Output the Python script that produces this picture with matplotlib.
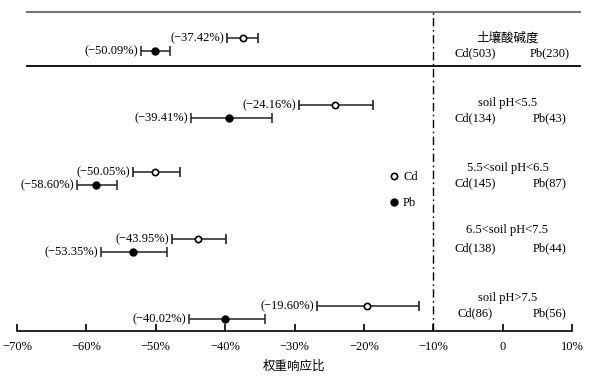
import matplotlib
matplotlib.use("Agg")
import matplotlib.pyplot as plt
from matplotlib.lines import Line2D
import numpy as np

# ---- data ----
groups = ["土壤酸碱度", "soil pH<5.5", "5.5<soil pH<6.5", "6.5<soil pH<7.5", "soil pH>7.5"]
cd_n = [503, 134, 145, 138, 86]
pb_n = [230, 43, 87, 44, 56]
cd_mean = [-37.42, -24.16, -50.05, -43.95, -19.60]
cd_low = [-39.7, -29.4, -53.3, -47.7, -26.8]
cd_high = [-35.3, -18.7, -46.5, -39.9, -12.1]
pb_mean = [-50.09, -39.41, -58.60, -53.35, -40.02]
pb_low = [-52.1, -44.9, -61.4, -57.9, -45.2]
pb_high = [-48.0, -33.3, -55.6, -48.4, -34.3]
xticks = [-70, -60, -50, -40, -30, -20, -10, 0, 10]
xticklabels = ["\u221270%", "\u221260%", "\u221250%", "\u221240%", "\u221230%", "\u221220%", "\u221210%", "0", "10%"]

SERIF = ["Liberation Serif", "Noto Sans CJK SC"]
plt.rcParams["font.family"] = SERIF
plt.rcParams["axes.unicode_minus"] = True

W, H = 611, 381
fig = plt.figure(figsize=(W / 100, H / 100), dpi=100)
ax = fig.add_axes([17 / W, 1 - 331 / H, (572 - 17) / W, (331 - 12) / H])

gi = np.arange(len(groups))
off = 0.098
y_cd = gi - off
y_pb = gi + off

cd_mean_a = np.array(cd_mean)
pb_mean_a = np.array(pb_mean)
cd_err = [cd_mean_a - np.array(cd_low), np.array(cd_high) - cd_mean_a]
pb_err = [pb_mean_a - np.array(pb_low), np.array(pb_high) - pb_mean_a]

ecol = "#222222"
ax.errorbar(cd_mean, y_cd, xerr=cd_err, fmt="o", mfc="white", mec="black", mew=1.2,
            ms=4.5, color=ecol, ecolor=ecol, elinewidth=1.1, capsize=3.5, capthick=1.1,
            zorder=3)
ax.errorbar(pb_mean, y_pb, xerr=pb_err, fmt="o", mfc="black", mec="black",
            ms=5, color=ecol, ecolor=ecol, elinewidth=1.1, capsize=3.5, capthick=1.1,
            zorder=3)

fs = 9
for i in gi:
    ax.text(cd_low[i] - 0.4, y_cd[i], f"(\u2212{abs(cd_mean[i]):.2f}%)", ha="right", va="center", fontsize=fs)
    ax.text(pb_low[i] - 0.4, y_pb[i], f"(\u2212{abs(pb_mean[i]):.2f}%)", ha="right", va="center", fontsize=fs)

# right-side annotations
title_dy = [-0.10, -0.13, -0.16, -0.23, -0.22]
lab_dy = [0.13, 0.09, 0.06, 0.04, 0.0]
for i in gi:
    ax.text(0.7, i + title_dy[i], groups[i], ha="center", va="center", fontsize=fs,
            family=["Noto Sans CJK SC"] if i == 0 else SERIF)
    ax.text(-4.0, i + lab_dy[i], f"Cd({cd_n[i]})", ha="center", va="center", fontsize=fs)
    ax.text(6.8, i + lab_dy[i], f"Pb({pb_n[i]})", ha="center", va="center", fontsize=fs)

ax.set_xlim(-70, 10)
ax.set_ylim(4.27, -0.49)

# reference line
ax.axvline(-10, color="black", lw=1.0, linestyle=(0, (6, 2.5, 1.2, 2.5)), zorder=1)

# horizontal separators (slightly wider than axis)
ax.plot([-68.6, 11.1], [-0.49, -0.49], color="#777777", lw=1.5, clip_on=False)
ax.plot([-68.6, 11.1], [0.31, 0.31], color="black", lw=1.3, clip_on=False)

for s in ["top", "right", "left"]:
    ax.spines[s].set_visible(False)
ax.spines["bottom"].set_linewidth(1.2)
ax.set_yticks([])
ax.set_xticks(xticks)
ax.set_xticklabels(xticklabels, fontsize=fs)
ax.tick_params(axis="x", direction="in", length=5, width=1.2, pad=7)
ax.set_xlabel("权重响应比", fontsize=fs, family=["Noto Sans CJK SC"], labelpad=5)

handles = [
    Line2D([], [], linestyle="none", marker="o", mfc="white", mec="black", mew=1.2, ms=4.5),
    Line2D([], [], linestyle="none", marker="o", mfc="black", mec="black", ms=5),
]
ax.legend(handles, ["Cd", "Pb"], loc="center left", bbox_to_anchor=(0.662, 0.442), frameon=False,
          handlelength=0.6, handletextpad=0.4, labelspacing=1.1, fontsize=fs, borderpad=0)

fig.savefig("out.png", dpi=100)
